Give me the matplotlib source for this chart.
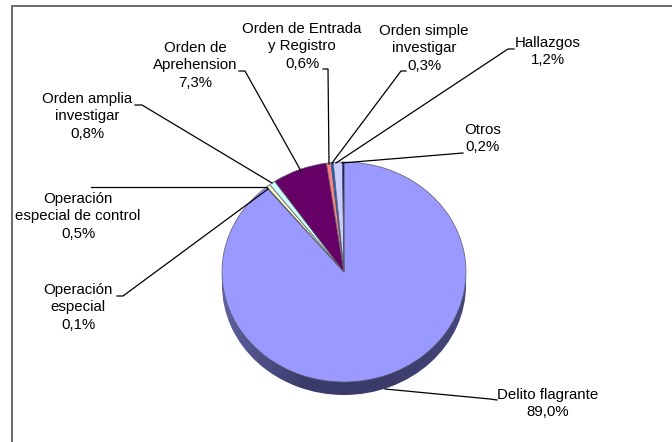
import numpy as np
import matplotlib
matplotlib.use("Agg")
import matplotlib.pyplot as plt
from matplotlib.colors import LinearSegmentedColormap

labels = ["Delito flagrante", "Operación\nespecial", "Operación\nespecial de control",
          "Orden amplia\ninvestigar", "Orden de\nAprehension", "Orden de Entrada\ny Registro",
          "Orden simple\ninvestigar", "Hallazgos", "Otros"]
values = [89.0, 0.1, 0.5, 0.8, 7.3, 0.6, 0.3, 1.2, 0.2]
pct_text = ["89,0%", "0,1%", "0,5%", "0,8%", "7,3%", "0,6%", "0,3%", "1,2%", "0,2%"]
colors = ["#9999FF", "#993366", "#FFFFCC", "#CCFFFF", "#660066",
          "#FF8080", "#0066CC", "#CCCCFF", "#000080"]

W, H = 672, 442
cx, cy, rx, ry, depth = 344, 272, 122, 110, 13

plt.rcParams["font.family"] = ["Liberation Sans", "DejaVu Sans"]
fig = plt.figure(figsize=(W / 100, H / 100), dpi=100, facecolor="white")

# pie axes: one data unit is the radius, so the ellipse comes from the limits
ax = fig.add_axes([0, 0, 1, 1])
side = LinearSegmentedColormap.from_list("side", ["#5F629F", "#3B3B6B", "#3B3B6B", "#45477A"])
grad = np.linspace(0, 1, 256).reshape(1, -1)
im = ax.imshow(grad, cmap=side, extent=(-1, 1, -1 - depth / ry, 0), aspect="auto", zorder=1)
rim, _ = ax.pie([1], colors=["none"], radius=1, center=(0, -depth / ry), wedgeprops={"linewidth": 0})
im.set_clip_path(rim[0])
wedges, _ = ax.pie(values, colors=colors, startangle=90, counterclock=False, radius=1,
                   wedgeprops={"edgecolor": "#5a5a6a", "linewidth": 0.5, "zorder": 3})
ax.set_aspect("auto")
ax.set_xlim(-cx / rx, (W - cx) / rx)
ax.set_ylim((cy - H) / ry, cy / ry)
ax.axis("off")

# overlay in image pixels for border, leaders and labels
ov = fig.add_axes([0, 0, 1, 1])
ov.set_xlim(0, W)
ov.set_ylim(H, 0)
ov.axis("off")
ov.patch.set_alpha(0)

ov.plot([11.8, 11.8, W], [H, 5.7, 5.7], color="#6a6a6a", lw=1.4, solid_joinstyle="miter")

leaders = [
    ([385, 490, 497], [389, 399, 400]),
    ([268, 123, 117], [189, 296, 296]),
    ([267, 91], [187, 187]),
    ([272, 142, 135], [183, 105, 105]),
    ([301, 245, 239], [171, 71, 71]),
    ([329, 328, 323], [164, 69, 69]),
    ([332, 401, 406], [163, 71, 71]),
    ([336, 508, 514], [163, 49, 49]),
    ([342, 463], [163, 153]),
]
for xs, ys in leaders:
    ov.plot(xs, ys, color="black", lw=0.9)

label_pos = [(548, 395), (78, 290), (78, 199), (87, 99), (195, 48),
             (302, 29), (424, 31), (548, 43), (483, 130)]
for name, pct, (x, y) in zip(labels, pct_text, label_pos):
    for i, line in enumerate((name + "\n" + pct).split("\n")):
        ov.text(x, y + i * 17.3, line, ha="center", va="center", fontsize=10.8, color="black")

fig.savefig("out.png", dpi=100)
